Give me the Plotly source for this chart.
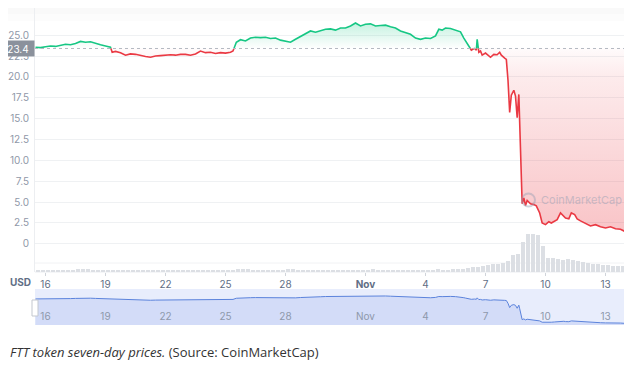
import numpy as np
import pandas as pd
import plotly.graph_objects as go

# ---------------- data ----------------
price_time = [
    "2022-10-15 12:00", "2022-10-15 18:00",
    "2022-10-16 00:00", "2022-10-16 06:00", "2022-10-16 12:00", "2022-10-16 18:00",
    "2022-10-17 00:00", "2022-10-17 06:00", "2022-10-17 12:00", "2022-10-17 18:00",
    "2022-10-18 00:00", "2022-10-18 06:00", "2022-10-18 12:00", "2022-10-18 18:00",
    "2022-10-19 00:00", "2022-10-19 06:00", "2022-10-19 08:00", "2022-10-19 12:00", "2022-10-19 18:00",
    "2022-10-20 00:00", "2022-10-20 06:00", "2022-10-20 12:00", "2022-10-20 18:00",
    "2022-10-21 00:00", "2022-10-21 06:00", "2022-10-21 12:00", "2022-10-21 18:00",
    "2022-10-22 00:00", "2022-10-22 06:00", "2022-10-22 12:00", "2022-10-22 18:00",
    "2022-10-23 00:00", "2022-10-23 06:00", "2022-10-23 12:00", "2022-10-23 18:00",
    "2022-10-24 00:00", "2022-10-24 06:00", "2022-10-24 12:00", "2022-10-24 18:00",
    "2022-10-25 00:00", "2022-10-25 06:00", "2022-10-25 09:00", "2022-10-25 13:00", "2022-10-25 18:00",
    "2022-10-26 00:00", "2022-10-26 06:00", "2022-10-26 12:00", "2022-10-26 18:00",
    "2022-10-27 00:00", "2022-10-27 06:00", "2022-10-27 12:00", "2022-10-27 18:00",
    "2022-10-28 00:00", "2022-10-28 06:00", "2022-10-28 12:00", "2022-10-28 18:00",
    "2022-10-29 00:00", "2022-10-29 06:00", "2022-10-29 12:00", "2022-10-29 18:00",
    "2022-10-30 00:00", "2022-10-30 06:00", "2022-10-30 12:00", "2022-10-30 18:00",
    "2022-10-31 00:00", "2022-10-31 06:00", "2022-10-31 12:00", "2022-10-31 18:00",
    "2022-11-01 00:00", "2022-11-01 06:00", "2022-11-01 12:00", "2022-11-01 18:00",
    "2022-11-02 00:00", "2022-11-02 06:00", "2022-11-02 12:00", "2022-11-02 18:00",
    "2022-11-03 00:00", "2022-11-03 06:00", "2022-11-03 12:00", "2022-11-03 18:00",
    "2022-11-04 00:00", "2022-11-04 06:00", "2022-11-04 12:00", "2022-11-04 16:00", "2022-11-04 20:00",
    "2022-11-05 00:00", "2022-11-05 06:00", "2022-11-05 12:00", "2022-11-05 18:00", "2022-11-05 22:00",
    "2022-11-06 00:00", "2022-11-06 04:00", "2022-11-06 07:00", "2022-11-06 11:00", "2022-11-06 13:00",
    "2022-11-06 14:00", "2022-11-06 16:00", "2022-11-06 18:00", "2022-11-06 20:00",
    "2022-11-07 00:00", "2022-11-07 04:00", "2022-11-07 06:00", "2022-11-07 10:00", "2022-11-07 14:00",
    "2022-11-07 17:00", "2022-11-07 19:00", "2022-11-07 23:00",
    "2022-11-08 01:00", "2022-11-08 03:00", "2022-11-08 05:00", "2022-11-08 07:00", "2022-11-08 10:00",
    "2022-11-08 12:00", "2022-11-08 14:00", "2022-11-08 16:00", "2022-11-08 17:00", "2022-11-08 19:00",
    "2022-11-08 20:00", "2022-11-08 22:00",
    "2022-11-09 00:00", "2022-11-09 02:00", "2022-11-09 06:00", "2022-11-09 10:00", "2022-11-09 13:00",
    "2022-11-09 17:00", "2022-11-09 20:00",
    "2022-11-10 00:00", "2022-11-10 04:00", "2022-11-10 07:00", "2022-11-10 11:00", "2022-11-10 14:00",
    "2022-11-10 18:00", "2022-11-10 22:00",
    "2022-11-11 00:00", "2022-11-11 04:00", "2022-11-11 07:00", "2022-11-11 11:00", "2022-11-11 14:00",
    "2022-11-11 18:00",
    "2022-11-12 00:00", "2022-11-12 06:00", "2022-11-12 12:00", "2022-11-12 18:00",
    "2022-11-13 00:00", "2022-11-13 06:00", "2022-11-13 12:00", "2022-11-13 18:00",
    "2022-11-14 00:00", "2022-11-14 04:00", "2022-11-14 08:00",
]
price_usd = [
    23.55, 23.5,
    23.6, 23.7, 23.65, 23.8,
    23.9, 23.85, 24.0, 24.25,
    24.15, 24.2, 24.0, 23.85,
    23.7, 23.55, 22.95, 23.05, 22.9,
    22.6, 22.75, 22.7, 22.55,
    22.45, 22.35, 22.5, 22.55,
    22.6, 22.65, 22.6, 22.7,
    22.7, 22.6, 22.75, 23.1,
    22.9, 22.95, 22.8, 22.9,
    22.85, 22.95, 23.1, 24.15, 24.45,
    24.3, 24.65, 24.75, 24.7,
    24.75, 24.6, 24.65, 24.4,
    24.3, 24.15, 24.5, 24.8,
    25.1, 25.5, 25.35, 25.5,
    25.7, 25.75, 25.6, 25.85,
    25.85, 26.1, 26.45, 26.1,
    26.3, 26.35, 26.1, 26.15,
    26.2, 26.0, 25.85, 25.5,
    25.3, 25.1, 24.65, 24.5,
    24.65, 24.6, 24.9, 25.7, 25.6,
    25.85, 25.8, 25.6, 25.4, 24.65,
    24.3, 23.7, 23.2, 23.45, 23.2,
    24.5, 22.95, 23.1, 22.6,
    22.85, 22.5, 22.35, 22.7, 22.65,
    22.95, 22.6, 22.25,
    22.1, 19.6, 15.75, 17.8, 18.4,
    17.7, 15.1, 17.9, 14.8, 8.2,
    4.8, 5.5,
    4.6, 5.2, 4.8, 4.7, 4.55,
    3.7, 2.5,
    2.3, 2.65, 2.5, 2.75, 2.9,
    3.7, 3.35,
    3.1, 3.0, 3.7, 3.5, 3.0,
    2.75,
    2.4, 2.15, 2.3, 2.05,
    1.9, 2.05, 1.8, 1.75,
    1.45, 1.3, 1.7,
]
open_price = 23.4

# 6-hour volume bins (million USD), starting 2022-10-15 12:00
volume_start = "2022-10-15 12:00"
volume_musd = [
    20, 20,
    15, 20, 25, 20,
    20, 25, 30, 35,
    30, 25, 20, 20,
    20, 15, 20, 20,
    25, 20, 20, 15,
    20, 20, 20, 20,
    15, 20, 20, 20,
    20, 25, 20, 20,
    20, 15, 20, 20,
    25, 20, 30, 35,
    30, 25, 20, 20,
    20, 25, 20, 20,
    30, 30, 25, 20,
    25, 20, 20, 20,
    20, 25, 20, 20,
    20, 25, 20, 20,
    25, 30, 25, 20,
    20, 20, 25, 20,
    20, 25, 25, 20,
    20, 25, 30, 25,
    25, 30, 30, 35,
    40, 50, 55, 60,
    70, 80, 85, 90,
    110, 170, 180, 300,
    380, 380, 370, 260,
    140, 140, 130, 120,
    130, 120, 110, 100,
    90, 80, 80, 75,
    70, 65, 60, 60,
    55, 50,
]

tick_dates = ["2022-10-16", "2022-10-19", "2022-10-22", "2022-10-25", "2022-10-28",
              "2022-11-01", "2022-11-04", "2022-11-07", "2022-11-10", "2022-11-13"]
tick_text = ["16", "19", "22", "25", "28", "<b>Nov</b>", "4", "7", "10", "13"]
nav_tick_text = ["16", "19", "22", "25", "28", "Nov", "4", "7", "10", "13"]
y_tick_vals = [0, 2.5, 5, 7.5, 10, 12.5, 15, 17.5, 20, 22.5, 25]
y_tick_text = ["0", "2.5", "5.0", "7.5", "10.0", "12.5", "15.0", "17.5", "20.0", "22.5", "25.0"]

x_range = ["2022-10-15 11:24", "2022-11-14 07:48"]

# ---------------- helpers ----------------
# the page body has an 8px margin, so the figure is drawn from (8, 8)
OFF = 8
W, H = 632 - OFF, 367 - OFF
def px(x):
    return (x - OFF) / W
def py(y):
    return 1 - (y - OFF) / H

t = pd.to_datetime(price_time)
v = np.array(price_usd, dtype=float)
ts = t.astype("int64").to_numpy().astype(float)

# insert baseline crossings so the line can change colour exactly at the open price
aug_t, aug_v = [], []
for i in range(len(v)):
    if i > 0 and (v[i - 1] - open_price) * (v[i] - open_price) < 0:
        f = (open_price - v[i - 1]) / (v[i] - v[i - 1])
        aug_t.append(ts[i - 1] + f * (ts[i] - ts[i - 1]))
        aug_v.append(open_price)
    aug_t.append(ts[i])
    aug_v.append(v[i])
aug_t = pd.to_datetime(np.array(aug_t).astype("int64"))
aug_v = np.array(aug_v)

green_line = np.where(aug_v >= open_price, aug_v, np.nan)
red_line = np.where(aug_v <= open_price, aug_v, np.nan)
green_fill = np.maximum(aug_v, open_price)
red_fill = np.minimum(aug_v, open_price)
base_arr = np.full(len(aug_v), open_price)

vol_t = pd.date_range(volume_start, periods=len(volume_musd), freq="6h") + pd.Timedelta(hours=3)

GREEN = "#16c784"
RED = "#ea3943"

fig = go.Figure()

# volume bars
fig.add_trace(go.Bar(
    x=vol_t, y=volume_musd, xaxis="x", yaxis="y3",
    marker=dict(color="#dcdfe4", line=dict(width=0)),
    width=6 * 3600 * 1000 * 0.78, hoverinfo="skip",
))

# green area
fig.add_trace(go.Scatter(x=aug_t, y=base_arr, mode="lines", line=dict(width=0),
                         hoverinfo="skip", xaxis="x", yaxis="y"))
fig.add_trace(go.Scatter(
    x=aug_t, y=green_fill, mode="lines", line=dict(width=0), fill="tonexty",
    fillgradient=dict(type="vertical", start=open_price, stop=26.5,
                      colorscale=[[0, "rgba(22,199,132,0.0)"], [1, "rgba(22,199,132,0.25)"]]),
    hoverinfo="skip", xaxis="x", yaxis="y"))
# red area
fig.add_trace(go.Scatter(x=aug_t, y=base_arr, mode="lines", line=dict(width=0),
                         hoverinfo="skip", xaxis="x", yaxis="y"))
fig.add_trace(go.Scatter(
    x=aug_t, y=red_fill, mode="lines", line=dict(width=0), fill="tonexty",
    fillgradient=dict(type="vertical", start=1.2, stop=open_price,
                      colorscale=[[0, "rgba(234,57,67,0.30)"], [0.85, "rgba(234,57,67,0.10)"],
                                  [1, "rgba(234,57,67,0.02)"]]),
    hoverinfo="skip", xaxis="x", yaxis="y"))

# price lines
fig.add_trace(go.Scatter(x=aug_t, y=green_line, mode="lines",
                         line=dict(color=GREEN, width=1.6), connectgaps=False,
                         xaxis="x", yaxis="y"))
fig.add_trace(go.Scatter(x=aug_t, y=red_line, mode="lines",
                         line=dict(color=RED, width=1.6), connectgaps=False,
                         xaxis="x", yaxis="y"))

# navigator
fig.add_trace(go.Scatter(x=t, y=v, mode="lines", line=dict(color="#5b83dc", width=1),
                         fill="tozeroy", fillcolor="#d3dcf8", hoverinfo="skip",
                         xaxis="x2", yaxis="y2"))

shapes = [
    # faint top band
    dict(type="rect", xref="paper", yref="paper", x0=0, x1=1, y0=py(14), y1=py(8),
         fillcolor="rgba(0,0,0,0.025)", line=dict(width=0), layer="below"),
    dict(type="rect", xref="paper", yref="paper", x0=0, x1=1, y0=py(21), y1=py(14),
         fillcolor="rgba(0,0,0,0.012)", line=dict(width=0), layer="below"),
    # left plot border
    dict(type="line", xref="paper", yref="paper", x0=px(34.5), x1=px(34.5), y0=py(272), y1=py(8),
         line=dict(color="#eceef1", width=1), layer="below"),
    # faint lines near volume area
    dict(type="line", xref="paper", yref="paper", x0=px(35), x1=1, y0=py(263), y1=py(263),
         line=dict(color="#f1f2f4", width=1), layer="below"),
    dict(type="line", xref="paper", yref="paper", x0=px(35), x1=1, y0=py(272), y1=py(272),
         line=dict(color="#eceef1", width=1), layer="below"),
    # open-price dotted line
    dict(type="line", xref="paper", yref="y", x0=px(35), x1=1, y0=open_price, y1=open_price,
         line=dict(color="#b5bac2", width=1, dash="dot")),
    # navigator background
    dict(type="rect", xref="x2 domain", yref="y2 domain", x0=0, x1=1, y0=0, y1=1,
         fillcolor="#e8edfc", line=dict(width=0), layer="below"),
    # navigator handles
    dict(type="rect", xref="paper", yref="paper", x0=px(32), x1=px(38), y0=py(316), y1=py(300),
         fillcolor="white", line=dict(color="#c3c7cf", width=1)),
    dict(type="rect", xref="paper", yref="paper", x0=px(628), x1=px(634), y0=py(316), y1=py(300),
         fillcolor="white", line=dict(color="#c3c7cf", width=1)),
    # watermark logo
    dict(type="circle", xref="paper", yref="paper", x0=px(522), x1=px(535), y0=py(206.5), y1=py(193.5),
         line=dict(color="rgba(150,160,180,0.45)", width=2)),
]

annotations = [
    dict(text="23.4", xref="paper", yref="y", x=px(18), y=open_price, showarrow=False,
         xanchor="center", yanchor="middle", bgcolor="#8b919c", width=30, height=13,
         font=dict(family="Inter", size=10, color="white")),
    dict(text="<b>USD</b>", xref="paper", yref="paper", x=px(20), y=py(282), showarrow=False,
         xanchor="center", yanchor="middle", font=dict(family="Inter", size=10, color="#616e85")),
    dict(text="CoinMarketCap", xref="paper", yref="paper", x=px(539), y=py(200),
         showarrow=False, xanchor="left", yanchor="middle",
         font=dict(family="Inter", size=11, color="rgba(150,160,180,0.5)")),
    dict(text="<i>FTT token seven-day prices.</i> (Source: CoinMarketCap)", xref="paper",
         yref="paper", x=px(8), y=py(352), showarrow=False, xanchor="left", yanchor="middle",
         font=dict(family="Open Sans", size=13, color="#333333")),
]

fig.update_layout(
    width=W, height=H,
    margin=dict(l=0, r=0, t=0, b=0),
    paper_bgcolor="white", plot_bgcolor="rgba(0,0,0,0)",
    showlegend=False, bargap=0,
    font=dict(family="Inter", size=10, color="#808a9d"),
    xaxis=dict(domain=[px(35), 1], range=x_range, anchor="y", type="date",
               tickvals=tick_dates, ticktext=tick_text, ticks="outside", ticklen=3,
               tickcolor="#d0d4da", showgrid=False, zeroline=False, showline=False,
               tickfont=dict(family="Inter", size=10, color="#616e85")),
    yaxis=dict(domain=[py(272), py(8)], range=[-3.37, 28.25], anchor="x",
               tickvals=y_tick_vals, ticktext=y_tick_text, showgrid=True,
               gridcolor="#eff1f3", zeroline=False, showline=False, ticks="",
               ticklabelstandoff=5,
               tickfont=dict(family="Inter", size=10, color="#8f98a8")),
    yaxis3=dict(overlaying="y", range=[0, 2650], visible=False, anchor="x"),
    xaxis2=dict(domain=[px(35), 1], range=x_range, anchor="y2", type="date",
                tickvals=tick_dates, ticktext=nav_tick_text, ticklabelposition="inside",
                ticks="", showgrid=False, zeroline=False, showline=False,
                tickfont=dict(family="Inter", size=10, color="#8e98ab")),
    yaxis2=dict(domain=[py(325), py(289)], range=[0, 32.5], visible=False, anchor="x2"),
    shapes=shapes,
    annotations=annotations,
)

fig.write_html("out.html")
